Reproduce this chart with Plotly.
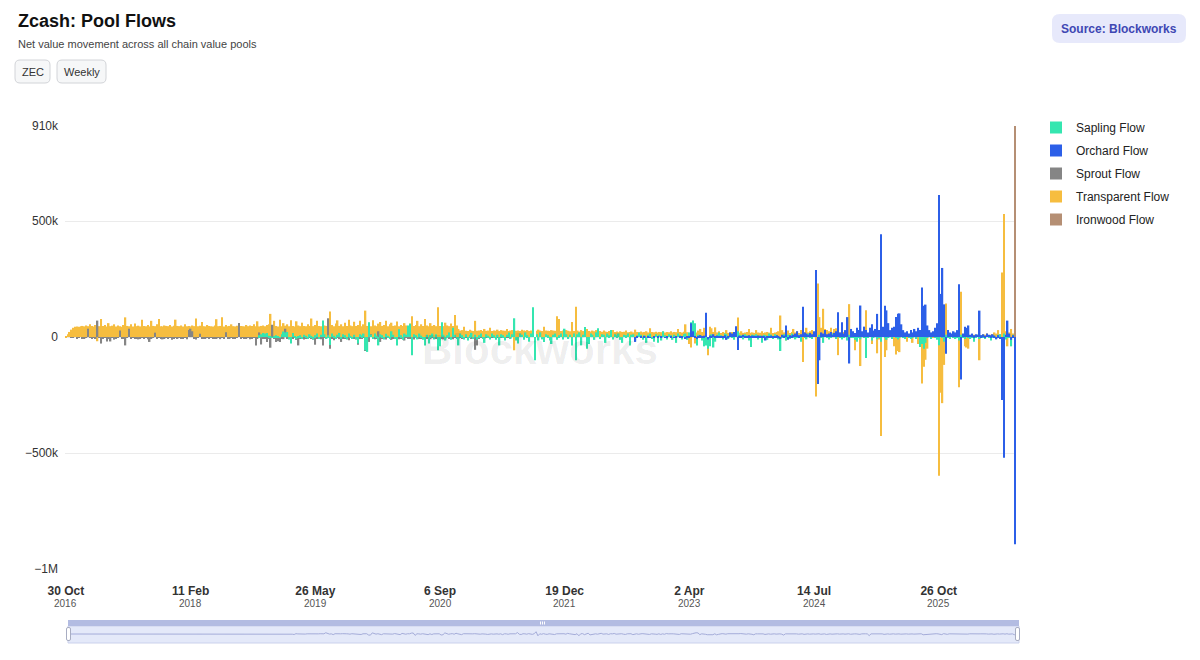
import pandas as pd
import plotly.graph_objects as go

# ---------------- DATA (values in thousands of ZEC, weekly) ----------------
first_week = "2016-10-30"
n_weeks = 511

tick_dates = ["2016-10-30", "2018-02-11", "2019-05-26", "2020-09-06",
              "2021-12-19", "2023-04-02", "2024-07-14", "2025-10-26"]
tick_day = ["30 Oct", "11 Feb", "26 May", "6 Sep", "19 Dec", "2 Apr", "14 Jul", "26 Oct"]
tick_year = ["2016", "2018", "2019", "2020", "2021", "2023", "2024", "2025"]

y_tick_vals = [-1000, -500, 0, 500, 910]
y_tick_text = ["\u22121M", "\u2212500k", "0", "500k", "910k"]

# Transparent flow, week 0 .. 510
transparent = [
    3, 12, 22, 32, 40, 44, 46, 45, 47, 48,
    46, 50, 47, 55, 48, 46, 52, -18, 47, 78,
    48, 52, 46, 60, 47, 49, 55, 46, 50, 47,
    45, 52, 85, 48, 47, 55, 46, 58, 47, 49,
    46, 75, 48, 47, 52, 46, 70, 48, 47, 55,
    78, 47, 46, 50, 48, 47, 52, 46, 49, 75,
    48, 47, 50, 46, 55, 47, 48, 46, 50, 47,
    80, 47, 49, 65, 47, 46, 52, 48, 47, 46,
    50, 77, 47, 48, 85, 46, 52, 47, 48, 55,
    47, 46, 49, 60, 48, 47, 46, 52, 47, 50,
    48, 55, 47, 68, 46, 48, 50, 47, 52, 55,
    100, 47, 70, 48, 46, 75, 47, 60, 49, 55,
    47, 72, 48, 46, 68, 50, 47, 62, 48, 47,
    55, 48, 80, 47, 52, 70, 48, 47, 60, 50,
    48, 65, 110, 52, 47, 58, 72, 48, 55, 47,
    62, 48, 75, 50, 47, 66, 48, 52, 70, 47,
    55, 114, 48, 60, 47, 72, 50, 47, 58, 65,
    48, 52, 70, 47, 55, 62, 48, 50, 67, 47,
    52, 48, 60, 50, 47, 58, 90, 48, 52, 70,
    47, 55, 48, 78, 50, 47, 60, 48, 52, 47,
    128, 48, 55, 47, 62, 50, 47, 58, 48, 95,
    50, 35, 28, 30, 45, 27, 26, 32, 28, 26,
    70, 27, 28, 30, 26, 35, 27, 28, 40, 26,
    28, 27, 32, 26, 30, 28, 27, 35, 26, 28,
    30, -57, 27, 28, 26, 32, 28, 27, 30, 26,
    28, 26, -30, 27, 32, 28, 26, 45, 28, 27,
    26, 30, 28, 27, 90, 78, 26, 28, 27, 30,
    27, 25, 65, 26, 131, 28, 24, 30, 26, 25,
    35, 26, 24, 28, 25, 30, 24, 26, 23, 28,
    24, 22, 26, 23, 30, 22, 24, 21, 25, 22,
    23, 28, 21, 22, 24, 20, 32, 22, 21, 24,
    21, 22, 25, 20, 38, 22, 21, 23, 20, 22,
    21, 24, 20, 22, 21, 25, 20, 22, 21, 35,
    22, 20, 23, 55, 21, -30, -45, 22, -28, 20,
    28, 35, 22, 40, 20, -78, 45, 38, 22, 42,
    20, 25, 18, 22, 19, 30, 18, 20, 22, 19,
    21, 84, 19, 25, 18, 20, 22, 35, 19, 20,
    18, 30, 20, 19, 25, 18, 20, 22, 19, 40,
    18, 20, 22, 25, 93, 30, 20, -15, 28, 18,
    22, 35, 20, 25, 18, 30, -107, 22, 40, 20,
    25, 30, 20, -256, 231, 86, 40, 122, 35, 30,
    25, 40, 20, 35, 38, -78, 20, 30, 22, 18,
    25, 142, 18, 20, -57, 15, 20, -125, 15, 22,
    116, 15, 20, -30, 12, 18, -70, -10, -427, 15,
    -86, -57, 12, 10, 15, -40, -75, -60, -65, 10,
    10, 12, -20, 8, 15, -25, 10, 8, -30, 12,
    -200, -128, -98, -50, 10, 12, 8, 15, 10, -598,
    -240, -285, -120, 145, 10, 8, 12, 10, 8, 15,
    -216, 195, 10, -40, -45, -50, 8, 12, 10, 8,
    10, -100, 8, 12, 10, 15, 8, 10, 12, 20,
    15, 30, 12, 278, 531, 25, -40, 20, 35, 15, 40,
]

# Sprout flow, weeks 0 .. 239 (pool inactive afterwards)
sprout_start = 0
sprout = [
    0, 0, 0, -2, -4, 0, -6, -3, 0, -8,
    -5, -3, 36, -4, -7, -2, -5, 71, -3, -28,
    -6, -4, -19, -5, -19, -3, -11, -6, -4, 28,
    -5, -8, -36, -4, 36, -6, -3, -5, -7, -10,
    -7, -4, -6, -3, -9, -21, -5, -4, 19, -6,
    -3, -8, -10, -5, -4, -7, -3, -12, -5, -4,
    -6, -3, -8, -5, -4, -9, 30, 36, 25, -6,
    -10, -4, 14, -5, -8, -7, -3, -6, -4, -5,
    -7, -5, -3, -9, -4, -6, 21, -5, -8, -3,
    -5, -7, -4, 61, -6, -3, -8, -5, -4, -9,
    -6, -4, -36, -7, 20, -32, -5, -8, -21, -6,
    -46, 53, -7, -21, -18, -21, -5, -9, 36, -6,
    -8, -26, -5, -4, -12, -36, -6, -7, -10, -5,
    -8, -4, -6, -11, -33, -5, -7, -9, -36, -4,
    -6, 81, -50, -5, -14, -7, -4, -9, -21, -6,
    -5, -8, -14, -4, -7, -6, -10, -33, -5, -8,
    -4, -60, -7, -21, 12, -5, -9, -6, 25, -21,
    -8, -5, -10, -4, -6, -12, -5, -7, -4, -9,
    -6, -5, -15, -4, -8, -6, -5, -10, -4, -7,
    -5, -8, -4, -12, -6, -5, -9, -4, -7, -5,
    -8, -4, -6, -10, -5, -4, -7, -5, -9, -4,
    -6, -5, -4, -8, -5, -3, -7, -4, -5, -6,
    -55, -36, -5, -4, -3, -6, -2, -4, -3, -2,
    -3, -1, -2, -4, -1, -2, -1, -3, -1, -2,
]

# Sapling flow, weeks 104 .. 510 (activated Oct 2018)
sapling_start = 104
sapling = [
    8, 12, 18, 15, 18, 6, 4, -3, 5, 8,
    3, -4, 12, 24, 20, 22, -11, -28, 18, 5,
    -6, 4, 8, -5, 10, 6, -8, 12, 5, -10,
    8, 15, -6, 10, 71, 12, -5, 8, -34, 15,
    6, -8, 10, 18, -6, 12, 8, -10, 15, 5,
    -8, 10, -6, -28, 12, 8, 15, -57, -64, 64,
    10, -8, 15, 6, -36, 12, 8, -10, 14, 6,
    -8, 25, 10, -6, -36, 34, 8, -12, 15, 10,
    50, 57, -78, 12, 8, -10, 15, 6, -12, -36,
    10, -28, 8, 15, -10, 12, -57, -40, 64, 10,
    -15, 8, 20, -12, 40, 10, -8, -36, 15, 8,
    -10, 12, -15, 8, 18, -6, 10, -12, 8, 15,
    -8, -25, 12, 6, -10, 15, 8, -12, 10, -36,
    12, 8, -15, 10, 20, -8, 12, 81, -15, -28,
    15, 10, -12, 20, 8, -20, 15, 128, -100, 12,
    -15, 20, -10, -21, 12, 8, -15, -30, 10, 15,
    -12, 8, 15, -10, 36, 12, -8, 10, -36, 15,
    -100, 12, 20, -36, 10, 43, -50, -30, 15, 10,
    -12, 20, 38, -8, 12, 10, -25, 15, 8, 30,
    -10, 12, 8, 15, -12, -25, 10, 8, 15, -36,
    10, 12, -15, 8, 20, 10, -12, 8, -25, 10,
    15, -8, -20, 12, -25, 10, -15, 25, 8, -10,
    12, 8, -12, 10, -25, 15, 8, -10, 12, 15,
    -12, 20, 64, 71, 60, -36, 10, 8, -15, -40,
    -36, -50, -40, 12, -45, -20, 10, 20, 8, -10,
    15, 12, -8, 10, 8, -12, 15, 25, 10, 8,
    -10, 12, 8, -15, -43, 10, 8, 12, -10, 8,
    -25, 10, 8, -12, 15, 10, -8, 12, 8, -10,
    -60, 8, 12, -15, 10, -8, 15, 6, -10, 8,
    10, -20, 12, 8, -10, 15, 6, -8, 10, 12,
    -15, 10, 8, -25, 12, 6, -10, 8, 15, 10,
    -8, 12, 6, -10, 8, 12, -15, 10, 6, 8,
    -12, -20, 8, -10, 12, 6, -90, 8, 10, -15,
    6, 12, -10, 8, -20, 10, 6, -12, 8, 10,
    -8, 12, 6, -10, 8, 10, 6, -8, 12, 5,
    -6, 8, 10, -5, 12, -43, -30, -50, -25, 8,
    10, -6, 15, 8, -12, -35, 20, 8, -20, 10,
    6, -8, 10, 5, -6, 8, -15, 10, 6, -8,
    12, 5, -6, 8, -20, 6, 10, -5, 8, 6,
    -6, 10, 5, -15, 8, 6, -5, 10, 12, -8,
    15, -10, 8, 6, -40, 10, -50,
]

# Orchard flow, weeks 300 .. 510 (activated 2022)
orchard_start = 300
orchard = [
    0, 0, 0, 0, 0, 0, -21, 2, 0, 1,
    0, 3, 0, 2, -4, 0, 3, 0, 2, 0,
    4, 0, -3, 2, 0, 5, 0, -2, 3, 0,
    2, 4, 0, -8, 3, 2, 60, 25, 5, -6,
    4, 8, 3, 6, 105, -10, 7, 5, 12, 4,
    6, 3, 5, 4, 8, -12, 5, 20, 15, 22,
    47, -56, 6, 4, 10, 5, 3, 8, 4, 6,
    5, 3, 7, 4, 6, 3, -15, 5, 4, 6,
    3, 5, 8, 4, -5, 10, 6, 50, -12, 8,
    6, 10, 15, 25, 8, 12, 131, 20, 15, 10,
    18, 12, 25, 289, -202, -100, 20, 15, 30, 12,
    15, 22, 10, 18, 25, 107, 20, 64, 15, 30,
    86, -114, 35, 25, 18, 40, 30, 136, 25, 45,
    30, 20, 40, 55, 28, 35, 100, 30, 443, 45,
    135, 115, 60, 30, 40, 45, 86, 100, 102, 55,
    30, 20, 25, 15, 30, 20, 35, 25, 40, 30,
    214, 135, 140, 50, 30, 20, 25, 40, 60, 612,
    186, 298, 141, -72, 30, 20, 15, 25, 20, 30,
    228, -183, 15, 45, 40, 50, 10, 15, 8, 12,
    10, 114, 8, 12, 6, 15, 10, 8, 12, 6,
    -10, 8, -5, -271, -520, 10, 71, 15, -12, 8, -893,
]

# Ironwood flow, only the final week
ironwood_start = 510
ironwood = [910]

# ---------------- FIGURE ----------------
weeks = pd.date_range(first_week, periods=n_weeks, freq="7D")
WEEK_MS = 7 * 24 * 3600 * 1000
bar_w = WEEK_MS * 0.8

# plot-area pixel frame (margins below)
L, R, T, B = 65, 1019, 126, 642
PW, PH = R - L, B - T


def px_x(px):
    return (px - L) / PW


def px_y(py):
    return (B - py) / PH


def rounded(x0, y0, x1, y1, r):
    rx, ry = r / PW, r / PH
    X0, X1 = px_x(x0), px_x(x1)
    Y0, Y1 = px_y(y1), px_y(y0)
    return (f"M {X0+rx},{Y0} L {X1-rx},{Y0} Q {X1},{Y0} {X1},{Y0+ry} "
            f"L {X1},{Y1-ry} Q {X1},{Y1} {X1-rx},{Y1} L {X0+rx},{Y1} "
            f"Q {X0},{Y1} {X0},{Y1-ry} L {X0},{Y0+ry} Q {X0},{Y0} {X0+rx},{Y0} Z")


series = [
    # (name, start, values, color, legend rank)
    ("Transparent Flow", 0, transparent, "#f6bd3f", 4),
    ("Sprout Flow", sprout_start, sprout, "#858585", 3),
    ("Sapling Flow", sapling_start, sapling, "#34e6b0", 1),
    ("Orchard Flow", orchard_start, orchard, "#2c5fe8", 2),
    ("Ironwood Flow", ironwood_start, ironwood, "#b58f74", 5),
]

fig = go.Figure()
for name, start, vals, color, rank in series:
    fig.add_trace(go.Bar(
        x=weeks[start:start + len(vals)], y=vals, name=name,
        marker=dict(color=color, line=dict(width=0)),
        width=bar_w, legendrank=rank, legendgroup=name,
        hoverinfo="skip",
    ))

# range-slider preview line (first series: Sapling)
slider_vals = [0] * sapling_start + sapling
fig.add_trace(go.Scatter(
    x=weeks[:len(slider_vals)], y=slider_vals, xaxis="x2", yaxis="y2",
    mode="lines", line=dict(color="#a4acd9", width=1),
    showlegend=False, hoverinfo="skip",
))

x_range = [weeks[0] - pd.Timedelta(days=3.5), weeks[-1] + pd.Timedelta(days=3.5)]
tick_text = [f"<b>{d}</b>" for d in tick_day]

shapes = []
# slider body, top band, handles, grip
shapes.append(dict(type="rect", xref="paper", yref="paper",
                   x0=px_x(68), x1=px_x(1019), y0=px_y(643), y1=px_y(626),
                   fillcolor="#e4e9f9", line=dict(color="#cbd1ec", width=1), layer="below"))
shapes.append(dict(type="rect", xref="paper", yref="paper",
                   x0=px_x(68), x1=px_x(1019), y0=px_y(626), y1=px_y(620),
                   fillcolor="#b3bce2", line=dict(width=0), layer="above"))
for hx in (66.5, 1015.5):
    shapes.append(dict(type="path", xref="paper", yref="paper",
                       path=rounded(hx, 627.5, hx + 4, 640.5, 1.5),
                       fillcolor="#ffffff", line=dict(color="#a8adc2", width=1), layer="above"))
for gx in (540.5, 542.5, 544.5):
    shapes.append(dict(type="line", xref="paper", yref="paper",
                       x0=px_x(gx), x1=px_x(gx), y0=px_y(624.5), y1=px_y(621.5),
                       line=dict(color="#ffffff", width=1), layer="above"))
# header pills
shapes.append(dict(type="path", xref="paper", yref="paper", path=rounded(15, 60, 50, 83, 5),
                   fillcolor="#f6f7f8", line=dict(color="#d2d4d8", width=1)))
shapes.append(dict(type="path", xref="paper", yref="paper", path=rounded(57, 60, 106, 83, 5),
                   fillcolor="#f6f7f8", line=dict(color="#d2d4d8", width=1)))
shapes.append(dict(type="path", xref="paper", yref="paper", path=rounded(1052, 14, 1186, 43, 8),
                   fillcolor="#e7e9fb", line=dict(width=0)))

FONT = "Liberation Sans, Arial, Helvetica, sans-serif"
annotations = [
    dict(text="<b>Zcash: Pool Flows</b>", x=px_x(16), y=px_y(21), xanchor="left", yanchor="middle",
         font=dict(size=18, color="#111111")),
    dict(text="Net value movement across all chain value pools", x=px_x(16), y=px_y(44),
         xanchor="left", yanchor="middle", font=dict(size=11, color="#444444")),
    dict(text="ZEC", x=px_x(32.5), y=px_y(71.5), xanchor="center", yanchor="middle",
         font=dict(size=11, color="#333333")),
    dict(text="Weekly", x=px_x(81.5), y=px_y(71.5), xanchor="center", yanchor="middle",
         font=dict(size=11, color="#333333")),
    dict(text="<b>Source: Blockworks</b>", x=px_x(1119), y=px_y(28.5), xanchor="center",
         yanchor="middle", font=dict(size=12, color="#3e47b3")),
    dict(text="<b>Blockworks</b>", x=px_x(540), y=px_y(349), xanchor="center", yanchor="middle",
         font=dict(size=42, color="rgba(0,0,0,0.075)")),
]
for a in annotations:
    a.update(xref="paper", yref="paper", showarrow=False)
# year line under each date tick
for d, yr in zip(tick_dates, tick_year):
    annotations.append(dict(text=yr, x=d, xref="x", y=px_y(603.5), yref="paper",
                            xanchor="center", yanchor="middle", showarrow=False,
                            font=dict(size=10, color="#555555")))

fig.update_layout(
    width=1200, height=660,
    margin=dict(l=L, r=1200 - R, t=T, b=660 - B),
    paper_bgcolor="white", plot_bgcolor="white",
    font=dict(family=FONT, color="#333333"),
    barmode="overlay",
    hovermode=False,
    showlegend=True,
    legend=dict(x=px_x(1036), y=px_y(113), xanchor="left", yanchor="top",
                font=dict(size=12, color="#222222"), tracegroupgap=4,
                bgcolor="rgba(0,0,0,0)"),
    xaxis=dict(type="date", domain=[0, px_x(1016)], range=x_range,
               tickvals=pd.to_datetime(tick_dates), ticktext=tick_text,
               showgrid=False, zeroline=False, showline=False, ticks="",
               tickfont=dict(size=12, color="#333333"), ticklabelstandoff=13,
               anchor="y"),
    yaxis=dict(domain=[px_y(569), 1], range=[-1000, 910],
               tickvals=y_tick_vals, ticktext=y_tick_text,
               showgrid=True, gridcolor="#ebebeb", gridwidth=1, zeroline=False,
               showline=False, ticks="", tickfont=dict(size=12, color="#333333"),
               ticklabelstandoff=6, anchor="x"),
    xaxis2=dict(type="date", domain=[px_x(68), 1], range=x_range, visible=False,
                anchor="y2"),
    yaxis2=dict(domain=[0, px_y(626)], range=[-450, 450], visible=False, anchor="x2"),
    shapes=shapes,
    annotations=annotations,
)

fig.write_html("out.html", config={"displayModeBar": False},
               post_script="document.body.style.margin='0';document.body.style.overflow='hidden';")
